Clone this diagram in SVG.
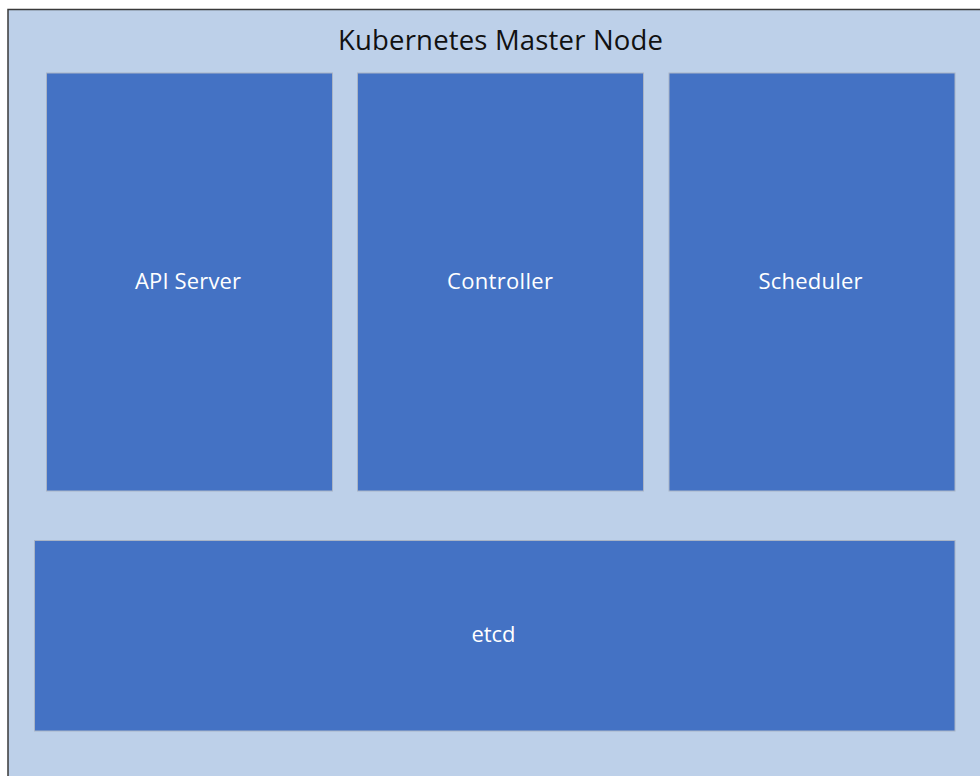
<svg xmlns="http://www.w3.org/2000/svg" width="980" height="776" viewBox="0 0 980 776">
  <style>
    .box { fill: #4472C4; stroke: #A9B4C6; stroke-width: 1; }
    .lbl { font-family: "Open Sans", "Noto Sans", sans-serif; font-size: 22px; fill: #FFFFFF; text-anchor: middle; }
    .title { font-family: "Open Sans", "Noto Sans", sans-serif; font-size: 27.5px; fill: #111111; text-anchor: middle; }
  </style>
  <rect width="980" height="776" fill="#FFFFFF"/>
  <g id="master">
    <rect x="8" y="9.5" width="990" height="800" fill="#BDD0E9" stroke="#3A3A3A" stroke-width="1.5"/>
    <text class="title" x="500.5" y="50" textLength="325">Kubernetes Master Node</text>
  </g>
  <g id="api-server">
    <rect class="box" x="46.5" y="73" width="286" height="418"/>
    <text class="lbl" x="188" y="289" textLength="106">API Server</text>
  </g>
  <g id="controller">
    <rect class="box" x="357.5" y="73" width="286" height="418"/>
    <text class="lbl" x="500" y="289" textLength="106">Controller</text>
  </g>
  <g id="scheduler">
    <rect class="box" x="669" y="73" width="286" height="418"/>
    <text class="lbl" x="810.5" y="289" textLength="104">Scheduler</text>
  </g>
  <g id="etcd">
    <rect class="box" x="34.5" y="540.5" width="920.5" height="190.5"/>
    <text class="lbl" x="493.5" y="642" textLength="44">etcd</text>
  </g>
  <g id="connectors"></g>
</svg>
